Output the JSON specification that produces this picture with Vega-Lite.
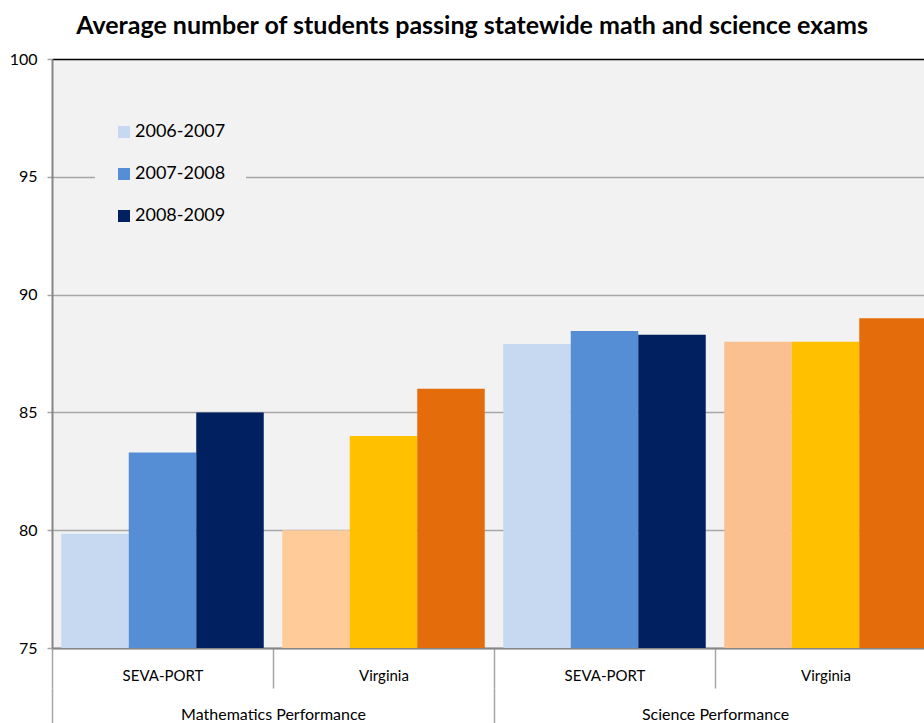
{
  "$schema": "https://vega.github.io/schema/vega-lite/v6.json",
  "autosize": "none",
  "width": 872,
  "height": 589,
  "padding": {"left": 52, "top": 59, "right": 0, "bottom": 75},
  "background": "white",
  "config": {
    "font": "Lato",
    "view": {"fill": "#F2F2F2", "stroke": null}
  },
  "title": {
    "text": "Average number of students passing statewide math and science exams",
    "font": "Lato",
    "fontSize": 25,
    "fontWeight": "bold",
    "color": "#000000",
    "anchor": "middle",
    "dx": -16,
    "offset": 12
  },
  "data": {
    "values": [
      {"subject": "Mathematics Performance", "region": "SEVA-PORT", "year": "2006-2007", "series": "2006-2007", "score": 79.85},
      {"subject": "Mathematics Performance", "region": "SEVA-PORT", "year": "2007-2008", "series": "2007-2008", "score": 83.3},
      {"subject": "Mathematics Performance", "region": "SEVA-PORT", "year": "2008-2009", "series": "2008-2009", "score": 85.0},
      {"subject": "Mathematics Performance", "region": "Virginia", "year": "2006-2007", "series": "VA math 2006-2007", "score": 80.0},
      {"subject": "Mathematics Performance", "region": "Virginia", "year": "2007-2008", "series": "VA 2007-2008", "score": 84.0},
      {"subject": "Mathematics Performance", "region": "Virginia", "year": "2008-2009", "series": "VA 2008-2009", "score": 86.0},
      {"subject": "Science Performance", "region": "SEVA-PORT", "year": "2006-2007", "series": "2006-2007", "score": 87.9},
      {"subject": "Science Performance", "region": "SEVA-PORT", "year": "2007-2008", "series": "2007-2008", "score": 88.45},
      {"subject": "Science Performance", "region": "SEVA-PORT", "year": "2008-2009", "series": "2008-2009", "score": 88.3},
      {"subject": "Science Performance", "region": "Virginia", "year": "2006-2007", "series": "VA science 2006-2007", "score": 88.0},
      {"subject": "Science Performance", "region": "Virginia", "year": "2007-2008", "series": "VA 2007-2008", "score": 88.0},
      {"subject": "Science Performance", "region": "Virginia", "year": "2008-2009", "series": "VA 2008-2009", "score": 89.0}
    ]
  },
  "transform": [
    {"calculate": "datum.subject + '|' + datum.region", "as": "group"}
  ],
  "layer": [
    {
      "mark": {"type": "bar", "clip": true},
      "encoding": {
        "x": {
          "field": "group",
          "type": "nominal",
          "sort": null,
          "scale": {"range": [0, 884], "paddingInner": 0, "paddingOuter": 0},
          "axis": {
            "title": null,
            "orient": "bottom",
            "tickBand": "extent",
            "tickSize": 40,
            "tickColor": "#A6A6A6",
            "tickWidth": 1.5,
            "domainColor": "#868686",
            "domainWidth": 2,
            "labelExpr": "split(datum.label, '|')[1]",
            "labelAngle": 0,
            "labelFont": "Lato",
            "labelFontSize": 15,
            "labelColor": "#000000",
            "labelLimit": 0,
            "labelPadding": -20
          }
        },
        "xOffset": {
          "field": "year",
          "type": "nominal",
          "sort": "ascending",
          "scale": {"paddingInner": 0, "paddingOuter": 0.137}
        },
        "y": {
          "field": "score",
          "type": "quantitative",
          "scale": {"domain": [75, 100], "zero": false, "nice": false},
          "axis": {
            "title": null,
            "values": [75, 80, 85, 90, 95, 100],
            "grid": true,
            "gridColor": {"condition": {"test": "datum.value === 100", "value": "#000000"}, "value": "#A6A6A6"},
            "gridWidth": 1.5,
            "domainColor": "#868686",
            "domainWidth": 2,
            "tickColor": "#A6A6A6",
            "tickSize": 5,
            "tickWidth": 1.5,
            "labelFont": "Lato",
            "labelFontSize": 16,
            "labelColor": "#000000",
            "labelPadding": 10
          }
        },
        "color": {
          "field": "series",
          "type": "nominal",
          "scale": {
            "domain": ["2006-2007", "2007-2008", "2008-2009", "VA math 2006-2007", "VA science 2006-2007", "VA 2007-2008", "VA 2008-2009"],
            "range": ["#C6D9F1", "#558ED5", "#002060", "#FFCC99", "#FAC090", "#FFC000", "#E46C0A"]
          },
          "legend": {
            "title": null,
            "values": ["2006-2007", "2007-2008", "2008-2009"],
            "orient": "none",
            "legendX": 43,
            "legendY": 44,
            "padding": 20,
            "fillColor": "#F2F2F2",
            "symbolType": "square",
            "symbolSize": 144,
            "symbolStrokeWidth": 0,
            "labelFont": "Lato",
            "labelFontSize": 18,
            "labelColor": "#000000",
            "labelOffset": 2,
            "rowPadding": 24
          }
        }
      }
    },
    {
      "mark": {"type": "bar", "opacity": 0, "clip": true},
      "encoding": {
        "x": {
          "field": "subject",
          "type": "nominal",
          "sort": null,
          "scale": {"range": [0, 884], "paddingInner": 0, "paddingOuter": 0},
          "axis": {
            "title": null,
            "orient": "bottom",
            "offset": 40,
            "domain": false,
            "tickBand": "extent",
            "tickSize": 36,
            "tickColor": "#A6A6A6",
            "tickWidth": 1.5,
            "labelAngle": 0,
            "labelFont": "Lato",
            "labelFontSize": 16,
            "labelColor": "#000000",
            "labelLimit": 0,
            "labelPadding": -18
          }
        },
        "y": {"field": "score", "type": "quantitative"}
      }
    }
  ],
  "resolve": {"scale": {"x": "independent"}}
}
